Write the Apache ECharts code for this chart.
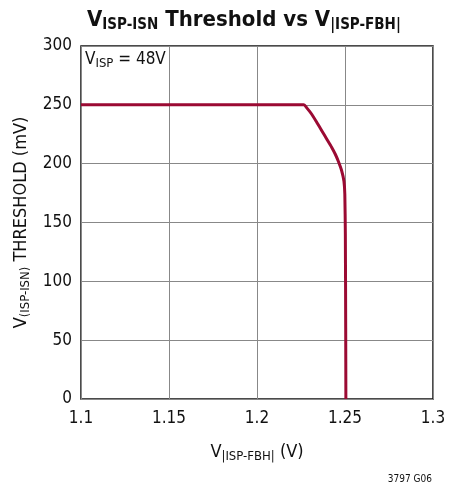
<!DOCTYPE html>
<html><head><meta charset="utf-8">
<script src="https://cdn.jsdelivr.net/npm/echarts@6/dist/echarts.min.js"></script>
<style>html,body{margin:0;padding:0;background:#fff}#c{width:463px;height:486px}</style>
</head><body><div id="c"></div>
<script>
const xTicks = [1.1, 1.15, 1.2, 1.25, 1.3];
const yTicks = [0, 50, 100, 150, 200, 250, 300];
const curveX = [1.1, 1.2265, 1.2285, 1.2311, 1.2340, 1.2368, 1.2396, 1.2424, 1.2445, 1.2462, 1.2481, 1.2494, 1.2499, 1.2502, 1.2504, 1.2505];
const curveY = [250, 250, 247, 242, 235, 228, 221, 214, 208, 202, 194, 185, 174, 140, 60, 0];
const F = '"Liberation Sans Narrow","DejaVu Sans Condensed",Arial,sans-serif';
const chart = echarts.init(document.getElementById('c'));
chart.setOption({
  animation:false,
  backgroundColor:'#fff',
  grid:{left:81,right:30,top:46,bottom:87,show:true,borderColor:'#111',borderWidth:1.5,backgroundColor:'transparent'},
  title:{
    text:'{v|V}{s|ISP-ISN}{v| Threshold vs V}{s|\u007CISP-FBH\u007C}',
    left:82, top:3,
    textStyle:{rich:{
      v:{fontFamily:F,fontWeight:'bold',fontSize:22,color:'#111'},
      s:{fontFamily:F,fontWeight:'bold',fontSize:15,color:'#111',verticalAlign:'bottom',padding:[10,0,0,0]}
    }}
  },
  xAxis:{type:'value',min:xTicks[0],max:xTicks[xTicks.length-1],interval:0.05,
    axisLine:{show:false},axisTick:{show:false},
    splitLine:{show:true,lineStyle:{color:'#888',width:1}},
    axisLabel:{fontFamily:F,fontSize:17,color:'#111',margin:11,formatter:v=>String(+v.toFixed(2))},
    name:'{v|V}{s|\u007CISP-FBH\u007C}{v| (V)}',nameLocation:'middle',nameGap:42,
    nameTextStyle:{rich:{v:{fontFamily:F,fontSize:18,color:'#111'},s:{fontFamily:F,fontSize:13,color:'#111',padding:[9,0,0,0]}}}
  },
  yAxis:{type:'value',min:yTicks[0],max:yTicks[yTicks.length-1],interval:50,
    axisLine:{show:false},axisTick:{show:false},
    splitLine:{show:true,lineStyle:{color:'#888',width:1}},
    axisLabel:{fontFamily:F,fontSize:17,color:'#111',margin:9},
    name:'{v|V}{s|(ISP-ISN)}{v| THRESHOLD (mV)}',nameLocation:'middle',nameGap:46,
    nameTextStyle:{rich:{v:{fontFamily:F,fontSize:18,color:'#111'},s:{fontFamily:F,fontSize:13,color:'#111',padding:[9,0,0,0]}}}
  },
  graphic:[
    {type:'rect',left:82,top:48,shape:{width:86,height:26},style:{fill:'#fff'},z:10},
    {type:'text',left:85,top:51,z:11,style:{rich:{v:{fontFamily:F,fontSize:17,fill:'#111'},s:{fontFamily:F,fontSize:13,fill:'#111',padding:[8,0,0,0]}},text:'{v|V}{s|ISP}{v| = 48V}'}},
    {type:'text',right:31,top:474,style:{text:'3797 G06',fontFamily:F,fontSize:10,fill:'#111'}}
  ],
  series:[{type:'line',data:curveX.map((x,i)=>[x,curveY[i]]),showSymbol:false,smooth:0.2,
    lineStyle:{color:'#9b0a33',width:3},z:5}]
});
</script></body></html>
